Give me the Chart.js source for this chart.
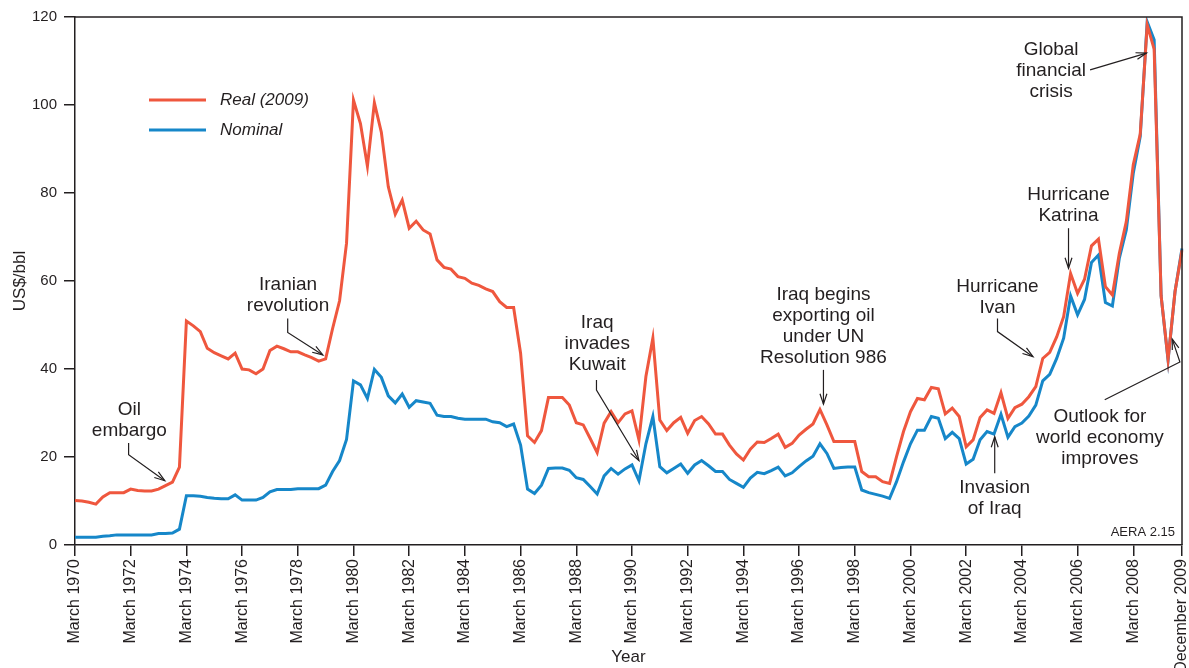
<!DOCTYPE html>
<html>
<head>
<meta charset="utf-8">
<script src="https://cdn.jsdelivr.net/npm/chart.js@4.4.0/dist/chart.umd.min.js"></script>
<style>
  html, body { margin: 0; padding: 0; background: #fff; }
</style>
</head>
<body>
<canvas id="oilChart" width="1189" height="668"></canvas>
<script>
// quarterly categories, March 1970 .. December 2009
const quarterMonths = ["March", "June", "September", "December"];
const quarters = [];
for (let y = 1970; y <= 2009; y++) quarterMonths.forEach((m) => quarters.push(m + " " + y));

const tickLabels = [
  "March 1970", "March 1972", "March 1974", "March 1976", "March 1978",
  "March 1980", "March 1982", "March 1984", "March 1986", "March 1988",
  "March 1990", "March 1992", "March 1994", "March 1996", "March 1998",
  "March 2000", "March 2002", "March 2004", "March 2006", "March 2008",
  "December 2009",
];

// US$/bbl
const realPrices = [
  10.1, 10.0, 9.7, 9.3, 10.9, 11.9, 11.9, 11.9, 12.7, 12.4,
  12.3, 12.3, 12.7, 13.5, 14.3, 17.7, 50.9, 49.8, 48.5, 44.7,
  43.7, 43.0, 42.3, 43.6, 40.0, 39.8, 38.9, 40.0, 44.2, 45.2,
  44.6, 43.9, 43.9, 43.2, 42.6, 41.8, 42.3, 49.2, 55.5, 68.6,
  101.1, 95.8, 86.1, 100.5, 93.8, 81.4, 75.2, 78.4, 72.0, 73.6,
  71.6, 70.7, 64.8, 63.1, 62.7, 61.0, 60.6, 59.5, 59.0, 58.2,
  57.6, 55.3, 54.0, 54.0, 43.6, 24.8, 23.3, 26.0, 33.5, 33.5,
  33.5, 31.8, 27.8, 27.3, 24.2, 21.0, 27.7, 30.3, 27.8, 29.8,
  30.5, 23.9, 38.3, 47.0, 28.4, 26.0, 27.8, 29.0, 25.4, 28.3,
  29.2, 27.5, 25.2, 25.2, 22.7, 20.7, 19.3, 21.8, 23.4, 23.3,
  24.2, 25.2, 22.2, 23.1, 25.0, 26.3, 27.5, 30.8, 27.3, 23.5,
  23.5, 23.5, 23.5, 16.7, 15.5, 15.5, 14.4, 14.0, 20.1, 25.8,
  30.3, 33.3, 33.0, 35.8, 35.5, 29.8, 31.1, 29.2, 22.3, 23.9,
  29.0, 30.7, 29.9, 34.6, 28.8, 31.2, 32.0, 33.7, 36.0, 42.4,
  43.8, 47.3, 51.9, 61.7, 57.2, 60.4, 68.0, 69.5, 58.7, 56.8,
  66.3, 73.5, 86.4, 93.4, 118.2, 112.7, 56.6, 42.2, 57.6, 67.0,
];

const nominalPrices = [
  1.75, 1.75, 1.75, 1.75, 2.0, 2.1, 2.3, 2.3, 2.3, 2.3,
  2.3, 2.3, 2.6, 2.6, 2.7, 3.6, 11.2, 11.2, 11.1, 10.8,
  10.6, 10.5, 10.5, 11.4, 10.2, 10.2, 10.2, 10.8, 12.1, 12.6,
  12.6, 12.6, 12.8, 12.8, 12.8, 12.8, 13.6, 16.7, 19.2, 24.0,
  37.3, 36.4, 33.3, 39.9, 38.1, 33.9, 32.3, 34.3, 31.3, 32.8,
  32.5, 32.2, 29.5, 29.2, 29.2, 28.8, 28.6, 28.6, 28.6, 28.6,
  28.0, 27.8, 26.9, 27.5, 22.7, 12.7, 11.7, 13.6, 17.4, 17.5,
  17.5, 17.0, 15.3, 14.9, 13.3, 11.6, 15.7, 17.4, 16.1, 17.3,
  18.2, 14.6, 23.0, 29.2, 17.8, 16.4, 17.4, 18.4, 16.3, 18.2,
  19.2, 18.0, 16.7, 16.7, 14.9, 14.0, 13.1, 15.2, 16.5, 16.2,
  16.9, 17.7, 15.7, 16.4, 17.8, 19.1, 20.2, 23.0, 20.8, 17.4,
  17.6, 17.7, 17.7, 12.5, 11.9, 11.5, 11.1, 10.6, 14.4, 18.9,
  23.0, 26.1, 26.1, 29.2, 28.8, 24.2, 25.6, 24.2, 18.4, 19.5,
  23.9, 25.8, 25.2, 29.7, 24.5, 26.9, 27.7, 29.3, 31.8, 37.3,
  38.8, 42.4, 47.0, 56.6, 52.3, 55.8, 64.2, 65.9, 55.1, 54.3,
  65.2, 71.6, 84.5, 92.8, 118.9, 114.8, 56.6, 42.0, 57.6, 67.4,
];

// callouts, anchored in data space: [quarter index, US$/bbl]
const notes = [
  { lines: ["Oil", "embargo"], at: [7.8, 30.7], path: [[7.7, 23.2], [7.7, 20.5], [12.9, 14.6]] },
  { lines: ["Iranian", "revolution"], at: [30.6, 59.1], path: [[30.55, 51.5], [30.55, 48.3], [35.6, 43.2]] },
  { lines: ["Iraq", "invades", "Kuwait"], at: [75.0, 50.4], path: [[74.9, 37.5], [74.9, 35.2], [81.0, 19.2]] },
  { lines: ["Iraq begins", "exporting oil", "under UN", "Resolution 986"], at: [107.5, 56.8], path: [[107.5, 39.8], [107.5, 32.0]] },
  { lines: ["Hurricane", "Ivan"], at: [132.5, 58.7], path: [[132.5, 51.5], [132.5, 48.5], [137.6, 42.8]] },
  { lines: ["Hurricane", "Katrina"], at: [142.7, 79.5], path: [[142.7, 72.0], [142.7, 62.9]] },
  { lines: ["Global", "financial", "crisis"], at: [140.2, 112.5], path: [[145.8, 108.0], [153.9, 111.8]] },
  { lines: ["Invasion", "of Iraq"], at: [132.1, 13.1], path: [[132.1, 16.3], [132.1, 24.6]] },
  { lines: ["Outlook for", "world economy", "improves"], at: [147.2, 29.2], path: [[147.9, 33.0], [158.7, 41.6], [157.6, 46.8]] },
];

const INK = "#231f20";
const RED = "#ef573e";
const BLUE = "#1687c9";
const FONT = "'Liberation Sans', Arial, Helvetica, sans-serif";

Chart.defaults.font.family = FONT;
Chart.defaults.color = INK;

function arrow(ctx, pts) {
  ctx.beginPath();
  ctx.moveTo(pts[0][0], pts[0][1]);
  for (let i = 1; i < pts.length; i++) ctx.lineTo(pts[i][0], pts[i][1]);
  ctx.stroke();
  const [x2, y2] = pts[pts.length - 1];
  const [x1, y1] = pts[pts.length - 2];
  const ang = Math.atan2(y2 - y1, x2 - x1);
  const len = 11, spread = 0.32;
  ctx.beginPath();
  ctx.moveTo(x2 - len * Math.cos(ang - spread), y2 - len * Math.sin(ang - spread));
  ctx.lineTo(x2, y2);
  ctx.lineTo(x2 - len * Math.cos(ang + spread), y2 - len * Math.sin(ang + spread));
  ctx.stroke();
}

const overlay = {
  id: "overlay",
  afterDraw(chart) {
    const ctx = chart.ctx;
    const a = chart.chartArea;
    const xs = chart.scales.x;
    const ys = chart.scales.y;
    const px = (p) => [xs.getPixelForValue(p[0]), ys.getPixelForValue(p[1])];

    ctx.save();
    // top and right of the frame
    ctx.strokeStyle = INK;
    ctx.lineWidth = 1.5;
    ctx.beginPath();
    ctx.moveTo(a.left, a.top);
    ctx.lineTo(a.right, a.top);
    ctx.lineTo(a.right, a.bottom);
    ctx.stroke();

    // legend
    const legendItems = [
      { text: "Real (2009)", color: RED },
      { text: "Nominal", color: BLUE },
    ];
    ctx.font = "italic 17px " + FONT;
    ctx.textBaseline = "middle";
    ctx.textAlign = "left";
    legendItems.forEach((it, k) => {
      const y = a.top + 83 + k * 30;
      ctx.strokeStyle = it.color;
      ctx.lineWidth = 3;
      ctx.beginPath();
      ctx.moveTo(a.left + 74, y);
      ctx.lineTo(a.left + 131, y);
      ctx.stroke();
      ctx.fillStyle = INK;
      ctx.fillText(it.text, a.left + 145, y);
    });

    // callouts
    ctx.font = "19px " + FONT;
    ctx.textAlign = "center";
    ctx.fillStyle = INK;
    ctx.strokeStyle = INK;
    ctx.lineWidth = 1.2;
    notes.forEach((n) => {
      const [tx, ty] = px(n.at);
      n.lines.forEach((line, k) => ctx.fillText(line, tx, ty + k * 21));
      arrow(ctx, n.path.map(px));
    });

    ctx.font = "13px " + FONT;
    ctx.textAlign = "right";
    ctx.fillText("AERA 2.15", a.right - 7, a.bottom - 13);
    ctx.restore();
  },
};

new Chart(document.getElementById("oilChart"), {
  type: "line",
  data: {
    labels: quarters,
    datasets: [
      {
        label: "Real (2009)",
        data: realPrices,
        borderColor: RED,
        borderWidth: 3,
        pointRadius: 0,
        tension: 0,
        fill: false,
      },
      {
        label: "Nominal",
        data: nominalPrices,
        borderColor: BLUE,
        borderWidth: 3,
        pointRadius: 0,
        tension: 0,
        fill: false,
      },
    ],
  },
  options: {
    responsive: false,
    animation: false,
    layout: { padding: { top: 17, right: 7, left: 0, bottom: 0 } },
    plugins: {
      legend: { display: false },
      tooltip: { enabled: false },
    },
    scales: {
      x: {
        grid: { drawOnChartArea: false, tickLength: 11, color: INK, lineWidth: 1.5 },
        border: { color: INK, width: 1.5 },
        afterBuildTicks: (scale) => {
          scale.ticks = scale.ticks.filter((t) => tickLabels.includes(quarters[t.value]));
        },
        afterFit: (scale) => {
          scale.height = 123;
          scale.paddingLeft = 0;
          scale.paddingRight = 0;
        },
        ticks: {
          autoSkip: false,
          maxRotation: 90,
          minRotation: 90,
          padding: 3,
          color: INK,
          font: { size: 16 },
          callback: function (v) { return this.getLabelForValue(v); },
        },
        title: { display: true, text: "Year", color: INK, font: { size: 17 }, padding: { top: 0, bottom: 0 } },
      },
      y: {
        min: 0,
        max: 120,
        grid: { drawOnChartArea: false, tickLength: 11, color: INK, lineWidth: 1.5 },
        border: { color: INK, width: 1.5 },
        afterFit: (scale) => {
          scale.width = 75;
          scale.paddingTop = 0;
          scale.paddingBottom = 0;
        },
        ticks: { stepSize: 20, padding: 7, color: INK, font: { size: 15 } },
        title: { display: true, text: "US$/bbl", color: INK, font: { size: 17 }, padding: { top: 10, bottom: 0 } },
      },
    },
  },
  plugins: [overlay],
});
</script>
</body>
</html>
